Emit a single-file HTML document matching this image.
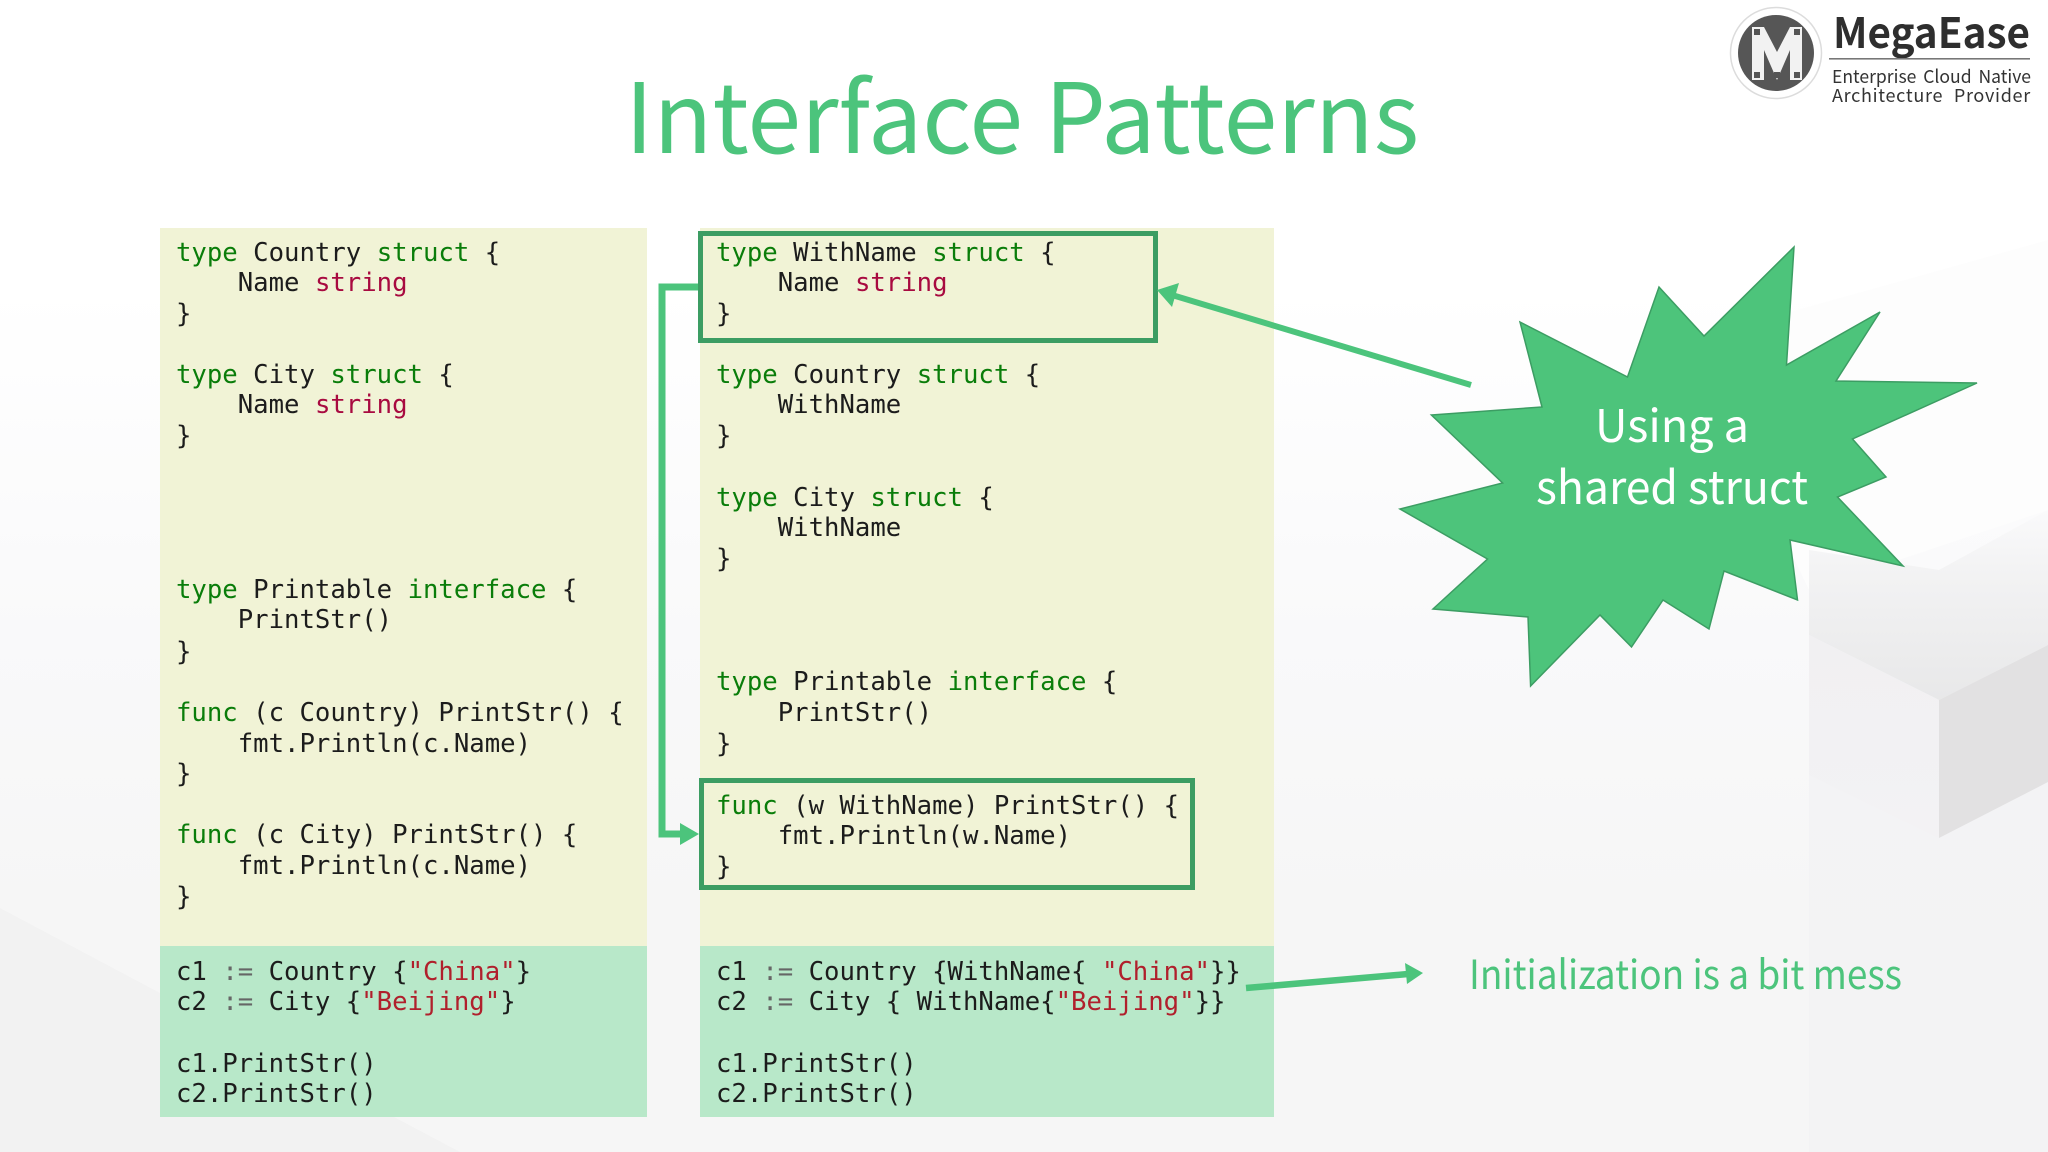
<!DOCTYPE html>
<html><head><meta charset="utf-8"><style>
html,body{margin:0;padding:0;background:#fff}
svg{display:block}
text{white-space:pre}
.c{font-family:"DejaVu Sans Mono","Liberation Mono",monospace;font-size:25.65px;fill:#1c1c1c}
.k{fill:#0a7d0a}.s{fill:#a80a40}.q{fill:#b0202c}.o{fill:#666}
.t{font-family:"Noto Sans CJK SC","Liberation Sans",sans-serif}
</style></head><body>
<svg width="2048" height="1152" viewBox="0 0 2048 1152" xmlns="http://www.w3.org/2000/svg">
<defs>
<linearGradient id="bg" x1="0" y1="0" x2="0" y2="1"><stop offset="0.25" stop-color="#fff"/><stop offset="0.55" stop-color="#f9f9fa"/><stop offset="0.8" stop-color="#f6f6f6"/><stop offset="1" stop-color="#f6f6f6"/></linearGradient>
<linearGradient id="tf" x1="0" y1="0" x2="0" y2="1"><stop offset="0" stop-color="#fafafb"/><stop offset="0.35" stop-color="#f2f2f3"/><stop offset="1" stop-color="#e8e8e9"/></linearGradient>
<linearGradient id="lf" x1="0" y1="0" x2="0" y2="1"><stop offset="0" stop-color="#f1f0f2"/><stop offset="1" stop-color="#f3f2f4"/></linearGradient>
<linearGradient id="rz" x1="0" y1="0" x2="0" y2="1"><stop offset="0" stop-color="#f8f8f9"/><stop offset="0.2" stop-color="#f3f3f5"/><stop offset="1" stop-color="#f3f3f4"/></linearGradient>
</defs>
<rect width="2048" height="1152" fill="url(#bg)"/>
<polygon points="0,908 160,993 460,1152 0,1152" fill="#f2f2f2"/>
<polygon points="1690,340 2048,240 2048,510 1809,590" fill="#fdfdfd"/>
<rect x="1809" y="600" width="239" height="552" fill="url(#rz)"/>
<polygon points="1809,550 1939,570 2048,510 2048,645 1939,700 1809,635" fill="url(#tf)"/>
<polygon points="1809,635 1939,700 1939,838 1809,775" fill="url(#lf)"/>
<polygon points="1939,700 2048,645 2048,782 1939,838" fill="#e2e1e2"/>

<!-- logo -->
<circle cx="1776" cy="53" r="45.5" fill="#fff" stroke="#dcdcdc" stroke-width="1.5"/>
<circle cx="1776" cy="53" r="38" fill="#565656"/>
<polygon points="1752,27 1764,27 1777,52 1790,27 1802,27 1802,80 1790,80 1790,50 1777,80 1764,50 1764,80 1752,80" fill="#f2f2f2"/>
<g fill="#555"><rect x="1754" y="29" width="6" height="6"/><rect x="1794" y="29" width="6" height="6"/><rect x="1754" y="72" width="6" height="6"/><rect x="1774" y="72" width="6" height="6"/><rect x="1794" y="72" width="6" height="6"/></g>
<text class="t" x="1833" y="48" font-size="42" font-weight="700" fill="#2e2e2e" textLength="197" lengthAdjust="spacingAndGlyphs">MegaEase</text>
<rect x="1829" y="58" width="201" height="1.6" fill="#777"/>
<text class="t" x="1832" y="83" font-size="18" fill="#333" word-spacing="3" textLength="199" lengthAdjust="spacingAndGlyphs">Enterprise Cloud Native</text>
<text class="t" x="1832" y="102" font-size="18" fill="#333" word-spacing="6" letter-spacing="0.7">Architecture Provider</text>

<!-- title -->
<text class="t" x="625" y="153" font-size="97" fill="#4cc47c" textLength="794" lengthAdjust="spacingAndGlyphs">Interface Patterns</text>

<!-- panels -->
<rect x="160" y="228" width="487" height="719" fill="#f1f3d6"/>
<rect x="160" y="946" width="487" height="171" fill="#b8e8c9"/>
<rect x="700" y="228" width="574" height="719" fill="#f1f3d6"/>
<rect x="700" y="946" width="574" height="171" fill="#b8e8c9"/>

<!-- left code -->
<g class="c">
<text x="176" y="261"><tspan class="k">type</tspan> Country <tspan class="k">struct</tspan> {</text>
<text x="176" y="291">    Name <tspan class="s">string</tspan></text>
<text x="176" y="322">}</text>
<text x="176" y="383"><tspan class="k">type</tspan> City <tspan class="k">struct</tspan> {</text>
<text x="176" y="413">    Name <tspan class="s">string</tspan></text>
<text x="176" y="444">}</text>
<text x="176" y="598"><tspan class="k">type</tspan> Printable <tspan class="k">interface</tspan> {</text>
<text x="176" y="628">    PrintStr()</text>
<text x="176" y="660">}</text>
<text x="176" y="721"><tspan class="k">func</tspan> (c Country) PrintStr() {</text>
<text x="176" y="752">    fmt.Println(c.Name)</text>
<text x="176" y="782">}</text>
<text x="176" y="843"><tspan class="k">func</tspan> (c City) PrintStr() {</text>
<text x="176" y="874">    fmt.Println(c.Name)</text>
<text x="176" y="905">}</text>
<text x="176" y="980">c1 <tspan class="o">:=</tspan> Country {<tspan class="q">"China"</tspan>}</text>
<text x="176" y="1010">c2 <tspan class="o">:=</tspan> City {<tspan class="q">"Beijing"</tspan>}</text>
<text x="176" y="1072">c1.PrintStr()</text>
<text x="176" y="1102">c2.PrintStr()</text>

<!-- right code -->
<text x="716" y="261"><tspan class="k">type</tspan> WithName <tspan class="k">struct</tspan> {</text>
<text x="716" y="291">    Name <tspan class="s">string</tspan></text>
<text x="716" y="322">}</text>
<text x="716" y="383"><tspan class="k">type</tspan> Country <tspan class="k">struct</tspan> {</text>
<text x="716" y="413">    WithName</text>
<text x="716" y="444">}</text>
<text x="716" y="506"><tspan class="k">type</tspan> City <tspan class="k">struct</tspan> {</text>
<text x="716" y="536">    WithName</text>
<text x="716" y="567">}</text>
<text x="716" y="690"><tspan class="k">type</tspan> Printable <tspan class="k">interface</tspan> {</text>
<text x="716" y="721">    PrintStr()</text>
<text x="716" y="752">}</text>
<text x="716" y="814"><tspan class="k">func</tspan> (w WithName) PrintStr() {</text>
<text x="716" y="844">    fmt.Println(w.Name)</text>
<text x="716" y="875">}</text>
<text x="716" y="980">c1 <tspan class="o">:=</tspan> Country {WithName{ <tspan class="q">"China"</tspan>}}</text>
<text x="716" y="1010">c2 <tspan class="o">:=</tspan> City { WithName{<tspan class="q">"Beijing"</tspan>}}</text>
<text x="716" y="1072">c1.PrintStr()</text>
<text x="716" y="1102">c2.PrintStr()</text>
</g>

<!-- boxes -->
<rect x="700.5" y="233.5" width="455" height="107" fill="none" stroke="#3c9d63" stroke-width="5"/>
<rect x="701.5" y="780.5" width="491" height="107" fill="none" stroke="#3c9d63" stroke-width="5"/>

<!-- connectors -->
<polyline points="698,287 662,287 662,834 684,834" fill="none" stroke="#4cc47c" stroke-width="7"/>
<polygon points="699,834 680,823 680,845" fill="#4cc47c"/>
<line x1="1471" y1="385" x2="1172" y2="295" stroke="#4cc47c" stroke-width="6"/>
<polygon points="1157,290 1179,283 1172,307" fill="#4cc47c"/>
<line x1="1246" y1="988" x2="1408" y2="974" stroke="#4cc47c" stroke-width="6.5"/>
<polygon points="1423,973 1405,963 1407,984" fill="#4cc47c"/>

<!-- burst -->
<polygon points="1794,247 1786.5,365 1880,312 1836,381 1977,383 1852.5,439 1886,477 1837.5,497 1903,566 1790,540 1797.5,600 1724,571 1709,629 1663,600 1631.5,647 1600,615 1530.6,686 1528,617 1433,609 1487.5,559 1400,509 1502.6,483 1431.4,415 1542,407 1520,322 1627.5,377 1659,287 1704,336" fill="#4dc47b" stroke="#3c9d63" stroke-width="1.5"/>
<text class="t" x="1672" y="442" font-size="45" fill="#fff" text-anchor="middle">Using a</text>
<text class="t" x="1672" y="504" font-size="46" fill="#fff" text-anchor="middle" textLength="272" lengthAdjust="spacingAndGlyphs">shared struct</text>

<text class="t" x="1469" y="989" font-size="40" fill="#4cc47c" textLength="433" lengthAdjust="spacingAndGlyphs">Initialization is a bit mess</text>
</svg>
</body></html>
